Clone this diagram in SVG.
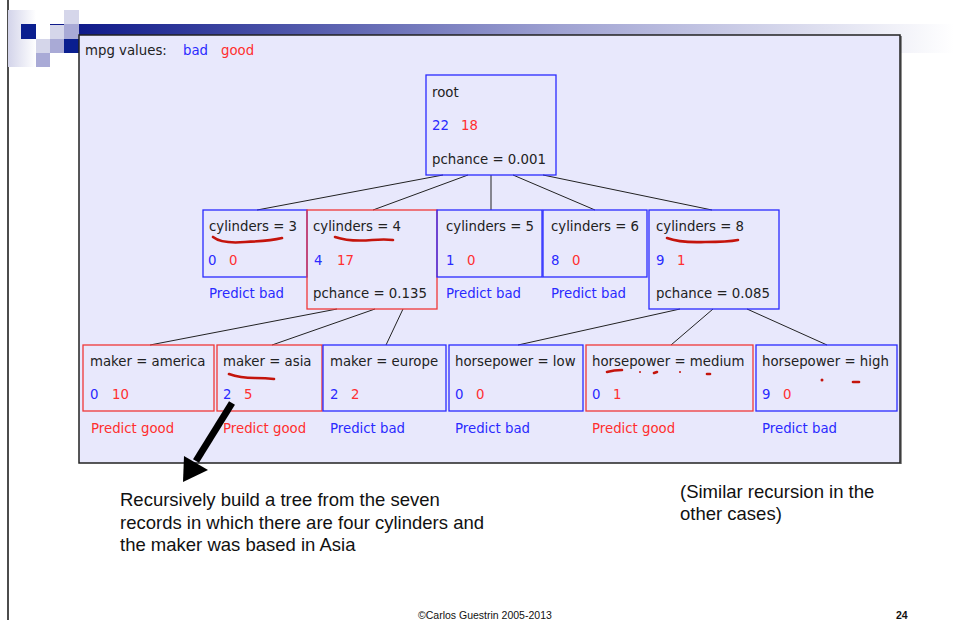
<svg xmlns="http://www.w3.org/2000/svg" width="954" height="620" viewBox="0 0 954 620">
  <defs>
    <linearGradient id="barGrad" x1="79" y1="0" x2="954" y2="0" gradientUnits="userSpaceOnUse">
      <stop offset="0" stop-color="#0f1a8a"/>
      <stop offset="0.55" stop-color="#9fa2d2"/>
      <stop offset="1" stop-color="#ffffff"/>
    </linearGradient>
    <linearGradient id="fadeGrad" x1="0" y1="0" x2="1" y2="0">
      <stop offset="0" stop-color="#d3d4ea"/>
      <stop offset="1" stop-color="#ffffff"/>
    </linearGradient>
    <style>
      .t { font-family: "DejaVu Sans", "Liberation Sans", sans-serif; font-size: 13.3px; }
      .k { fill: #222222; }
      .b { fill: #2a2aff; }
      .r { fill: #ff2f2f; }
      .boxb { fill: none; stroke: #2a2aff; stroke-width: 1.3; }
      .boxr { fill: none; stroke: #f03838; stroke-width: 1.3; }
      .edge { stroke: #222222; stroke-width: 1; fill: none; }
      .ink { stroke: #c4140c; stroke-width: 2.6; fill: none; stroke-linecap: round; }
      .note { font-family: "Liberation Sans", Arial, sans-serif; font-size: 18.5px; fill: #111111; }
    </style>
  </defs>

  <!-- slide background and left rule -->
  <rect x="0" y="0" width="954" height="620" fill="#ffffff"/>
  <line x1="8" y1="0" x2="8" y2="620" stroke="#111111" stroke-width="1.5"/>

  <!-- header ornament -->
  <g id="header">
    <rect x="8" y="10" width="28" height="57" fill="url(#fadeGrad)"/>
    <rect x="79" y="24" width="875" height="29" fill="url(#barGrad)"/>
    <rect x="50" y="24" width="29" height="1.5" fill="#0f1a8a"/>
    <rect x="21" y="24" width="15" height="15" fill="#0a1e8f"/>
    <rect x="50" y="25" width="14" height="14" fill="#d5d6ea"/>
    <rect x="64" y="10" width="15" height="14" fill="#d5d6ea"/>
    <rect x="64" y="24" width="15" height="15" fill="#a9aad6"/>
    <rect x="36" y="39" width="14" height="14" fill="#d5d6ea"/>
    <rect x="50" y="39" width="14" height="14" fill="#a9aad6"/>
    <rect x="64" y="39" width="15" height="14" fill="#0a1e8f"/>
    <rect x="36" y="53" width="14" height="14" fill="#a9aad6"/>
  </g>

  <!-- tree panel -->
  <rect x="79" y="35" width="821" height="428" fill="#e8e8fc" stroke="#222222" stroke-width="1.5"/>
  <line x1="901" y1="36" x2="901" y2="464" stroke="#222222" stroke-width="1"/>

  <g id="legend" class="t">
    <text x="85" y="55" class="k">mpg values:</text>
    <text x="183" y="55" class="b">bad</text>
    <text x="221" y="55" class="r">good</text>
  </g>

  <!-- connectors -->
  <g id="connectors">
    <line class="edge" x1="443" y1="175" x2="257" y2="210"/>
    <line class="edge" x1="468" y1="175" x2="373" y2="210"/>
    <line class="edge" x1="491" y1="175" x2="491" y2="210"/>
    <line class="edge" x1="513" y1="175" x2="595" y2="210"/>
    <line class="edge" x1="543" y1="175" x2="712" y2="210"/>
    <line class="edge" x1="337" y1="309" x2="150" y2="345"/>
    <line class="edge" x1="375" y1="309" x2="272" y2="345"/>
    <line class="edge" x1="403" y1="309" x2="386" y2="345"/>
    <line class="edge" x1="680" y1="309" x2="518" y2="345"/>
    <line class="edge" x1="713" y1="309" x2="671" y2="345"/>
    <line class="edge" x1="747" y1="309" x2="827" y2="345"/>
  </g>

  <!-- root -->
  <g id="root" class="t">
    <rect class="boxb" x="426" y="75" width="130" height="100"/>
    <text x="432" y="97" class="k">root</text>
    <text x="432" y="130" class="b">22</text>
    <text x="461" y="130" class="r">18</text>
    <text x="432" y="164" class="k">pchance = 0.001</text>
  </g>

  <!-- first split: cylinders -->
  <g id="cyl3" class="t">
    <rect class="boxb" x="203" y="210" width="104" height="67"/>
    <text x="209" y="231" class="k">cylinders = 3</text>
    <text x="208" y="265" class="b">0</text>
    <text x="229" y="265" class="r">0</text>
    <text x="209" y="298" class="b">Predict bad</text>
  </g>
  <g id="cyl4" class="t">
    <rect class="boxr" x="307" y="210" width="130" height="99"/>
    <text x="313" y="231" class="k">cylinders = 4</text>
    <text x="314" y="265" class="b">4</text>
    <text x="337" y="265" class="r">17</text>
    <text x="313" y="298" class="k">pchance = 0.135</text>
  </g>
  <g id="cyl5" class="t">
    <rect class="boxb" x="437" y="210" width="105" height="67"/>
    <text x="446" y="231" class="k">cylinders = 5</text>
    <text x="446" y="265" class="b">1</text>
    <text x="467" y="265" class="r">0</text>
    <text x="446" y="298" class="b">Predict bad</text>
  </g>
  <g id="cyl6" class="t">
    <rect class="boxb" x="543" y="210" width="104" height="67"/>
    <text x="551" y="231" class="k">cylinders = 6</text>
    <text x="551" y="265" class="b">8</text>
    <text x="572" y="265" class="r">0</text>
    <text x="551" y="298" class="b">Predict bad</text>
  </g>
  <g id="cyl8" class="t">
    <rect class="boxb" x="649" y="210" width="130" height="99"/>
    <text x="656" y="231" class="k">cylinders = 8</text>
    <text x="656" y="265" class="b">9</text>
    <text x="677" y="265" class="r">1</text>
    <text x="656" y="298" class="k">pchance = 0.085</text>
  </g>

  <!-- second split: maker -->
  <g id="america" class="t">
    <rect class="boxr" x="83" y="345" width="131" height="66"/>
    <text x="90" y="366" class="k">maker = america</text>
    <text x="90" y="399" class="b">0</text>
    <text x="112" y="399" class="r">10</text>
    <text x="91" y="433" class="r">Predict good</text>
  </g>
  <g id="asia" class="t">
    <rect class="boxr" x="217" y="345" width="105" height="66"/>
    <text x="223" y="366" class="k">maker = asia</text>
    <text x="223" y="399" class="b">2</text>
    <text x="244" y="399" class="r">5</text>
    <text x="223" y="433" class="r">Predict good</text>
  </g>
  <g id="europe" class="t">
    <rect class="boxb" x="323" y="345" width="123" height="66"/>
    <text x="330" y="366" class="k">maker = europe</text>
    <text x="330" y="399" class="b">2</text>
    <text x="351" y="399" class="r">2</text>
    <text x="330" y="433" class="b">Predict bad</text>
  </g>

  <!-- second split: horsepower -->
  <g id="hp-low" class="t">
    <rect class="boxb" x="449" y="345" width="134" height="66"/>
    <text x="455" y="366" class="k">horsepower = low</text>
    <text x="455" y="399" class="b">0</text>
    <text x="476" y="399" class="r">0</text>
    <text x="455" y="433" class="b">Predict bad</text>
  </g>
  <g id="hp-medium" class="t">
    <rect class="boxr" x="586" y="345" width="167" height="66"/>
    <text x="592" y="366" class="k">horsepower = medium</text>
    <text x="592" y="399" class="b">0</text>
    <text x="613" y="399" class="r">1</text>
    <text x="592" y="433" class="r">Predict good</text>
  </g>
  <g id="hp-high" class="t">
    <rect class="boxb" x="756" y="345" width="141" height="66"/>
    <text x="762" y="366" class="k">horsepower = high</text>
    <text x="762" y="399" class="b">9</text>
    <text x="783" y="399" class="r">0</text>
    <text x="762" y="433" class="b">Predict bad</text>
  </g>

  <!-- pen annotations -->
  <g id="ink">
    <path class="ink" d="M213 237 Q222 244 245 242 Q270 241 282 238"/>
    <path class="ink" d="M335 237 Q350 242 372 240 Q385 239 393 240"/>
    <path class="ink" d="M667 238 Q680 243 705 242 Q728 242 738 240"/>
    <path class="ink" d="M229 374 Q240 378 255 378 Q266 378 274 379"/>
    <path class="ink" d="M607 372 Q614 370 622 370"/>
    <circle cx="640" cy="372" r="1" fill="#c4140c"/>
    <path class="ink" d="M654 373 L657 372"/>
    <circle cx="680" cy="372" r="1" fill="#c4140c"/>
    <path class="ink" d="M707 374 L710 374"/>
    <circle cx="822" cy="380" r="1.5" fill="#c4140c"/>
    <path class="ink" d="M853 382 L859 382"/>
  </g>

  <!-- pointer to the asia branch -->
  <g id="pointer">
    <line x1="232" y1="403" x2="196" y2="461" stroke="#000000" stroke-width="7"/>
    <polygon points="183,482 184,456 208,470" fill="#000000"/>
  </g>

  <g id="notes" class="note">
    <text x="120" y="506">Recursively build a tree from the seven</text>
    <text x="120" y="528.5">records in which there are four cylinders and</text>
    <text x="120" y="551">the maker was based in Asia</text>
    <text x="680" y="498">(Similar recursion in the</text>
    <text x="680" y="520">other cases)</text>
  </g>

  <g id="footer" font-family="Liberation Sans, Arial, sans-serif" font-size="10.5px" fill="#111111">
    <text x="418" y="619">©Carlos Guestrin 2005-2013</text>
    <text x="896" y="619" font-weight="bold">24</text>
  </g>
</svg>
